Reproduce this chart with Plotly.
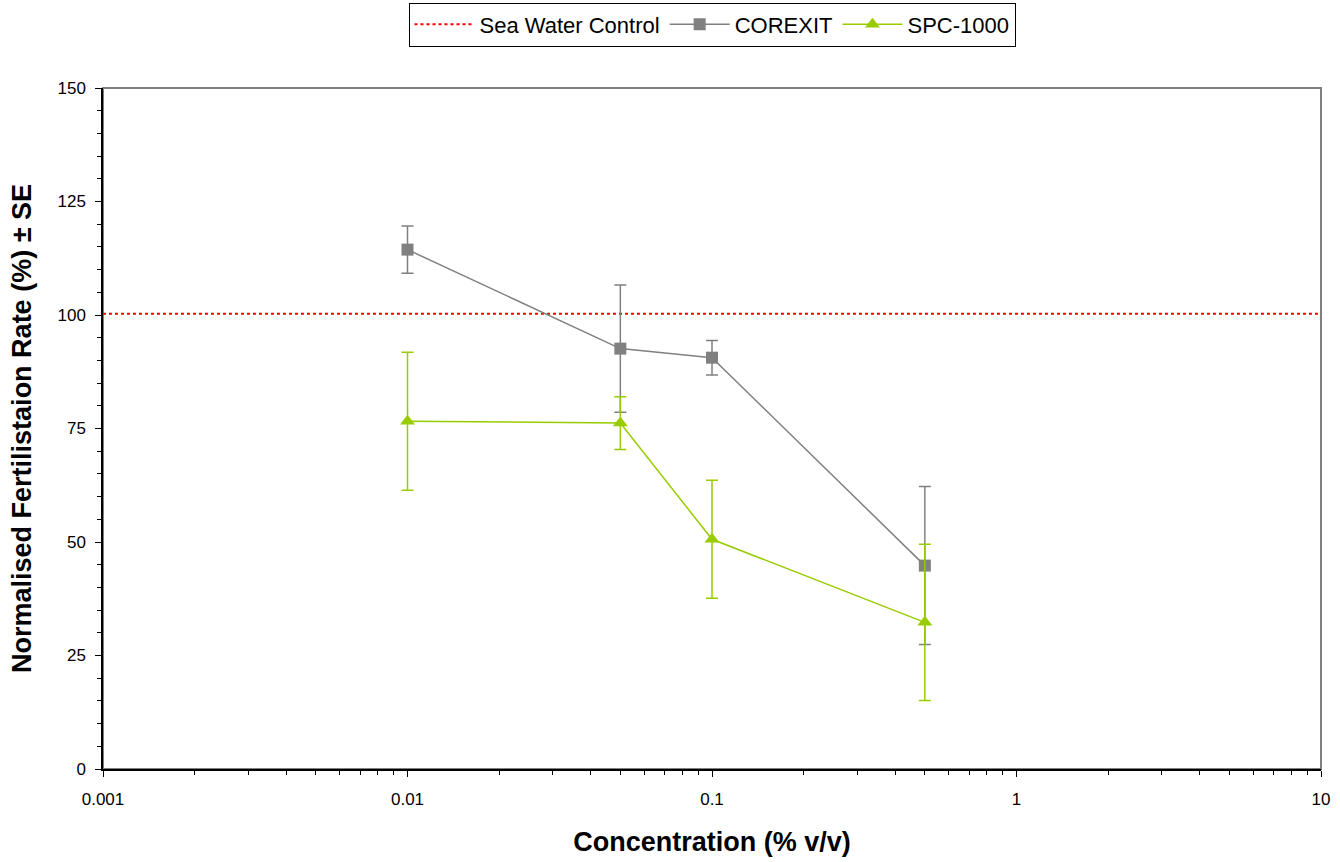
import plotly.graph_objects as go

conc = [0.01, 0.05, 0.1, 0.5]
corexit = [114.4, 92.6, 90.6, 44.8]
corexit_se = [5.2, 14.0, 3.8, 17.4]
spc = [76.6, 76.2, 50.6, 32.3]
spc_se = [15.2, 5.8, 13.0, 17.2]
control_x = [0.001, 10]
control_y = [100.3, 100.3]

x_ticks = [0.001, 0.01, 0.1, 1, 10]
x_ticklabels = ["0.001", "0.01", "0.1", "1", "10"]
y_ticks = [0, 25, 50, 75, 100, 125, 150]

GREY = "#808080"
GREEN = "#99CC00"

fig = go.Figure()
fig.add_trace(go.Scatter(
    x=control_x, y=control_y, mode="lines", name="Sea Water Control",
    line=dict(color="#FF0000", width=2, dash="dot"),
))
fig.add_trace(go.Scatter(
    x=conc, y=corexit, mode="lines+markers", name="COREXIT",
    line=dict(color=GREY, width=1.5),
    marker=dict(symbol="square", size=12, color=GREY),
    error_y=dict(type="data", array=corexit_se, visible=True, color=GREY, thickness=1.5, width=6),
))
fig.add_trace(go.Scatter(
    x=conc, y=spc, mode="lines+markers", name="SPC-1000",
    line=dict(color=GREEN, width=1.5),
    marker=dict(symbol="triangle-up", size=13, color=GREEN),
    error_y=dict(type="data", array=spc_se, visible=True, color=GREEN, thickness=1.5, width=6),
))

minor_vals = [m * 10 ** e for e in range(-3, 1) for m in range(2, 10)]

fig.update_layout(
    width=1340, height=862,
    margin=dict(l=103, r=19, t=88, b=93, autoexpand=False),
    paper_bgcolor="white", plot_bgcolor="white",
    font=dict(family="Liberation Sans, Arial, sans-serif", size=17, color="black"),
    showlegend=True,
    legend=dict(
        orientation="h", x=0.5, xanchor="center",
        yref="container", y=1 - 24.5 / 862, yanchor="middle",
        bordercolor="black", borderwidth=1,
        font=dict(size=22, color="black"), itemwidth=60,
    ),
    shapes=[dict(type="rect", xref="paper", yref="paper", x0=0, x1=1, y0=0, y1=1,
                 line=dict(color=GREY, width=2), layer="below")],
)
fig.update_xaxes(
    type="log", range=[-3, 1], tickvals=x_ticks, ticktext=x_ticklabels,
    ticks="outside", ticklen=6, tickcolor="black", showgrid=False, zeroline=False,
    showline=True, linecolor="black", linewidth=1.5, ticklabelstandoff=8,
    minor=dict(tickvals=minor_vals, ticks="outside", ticklen=4, tickcolor="black", showgrid=False),
    title=dict(text="<b>Concentration (% v/v)</b>", font=dict(size=27), standoff=24),
    tickfont=dict(size=17),
)
fig.update_yaxes(
    range=[0, 150], tickvals=y_ticks,
    ticks="outside", ticklen=6, tickcolor="black", showgrid=False, zeroline=False,
    showline=True, linecolor="black", linewidth=1.5, ticklabelstandoff=6,
    minor=dict(dtick=5, ticks="outside", ticklen=4, tickcolor="black", showgrid=False),
    title=dict(text="<b>Normalised Fertilistaion Rate (%) ± SE</b>", font=dict(size=27), standoff=18),
    tickfont=dict(size=17),
)

fig.write_html("out.html")
